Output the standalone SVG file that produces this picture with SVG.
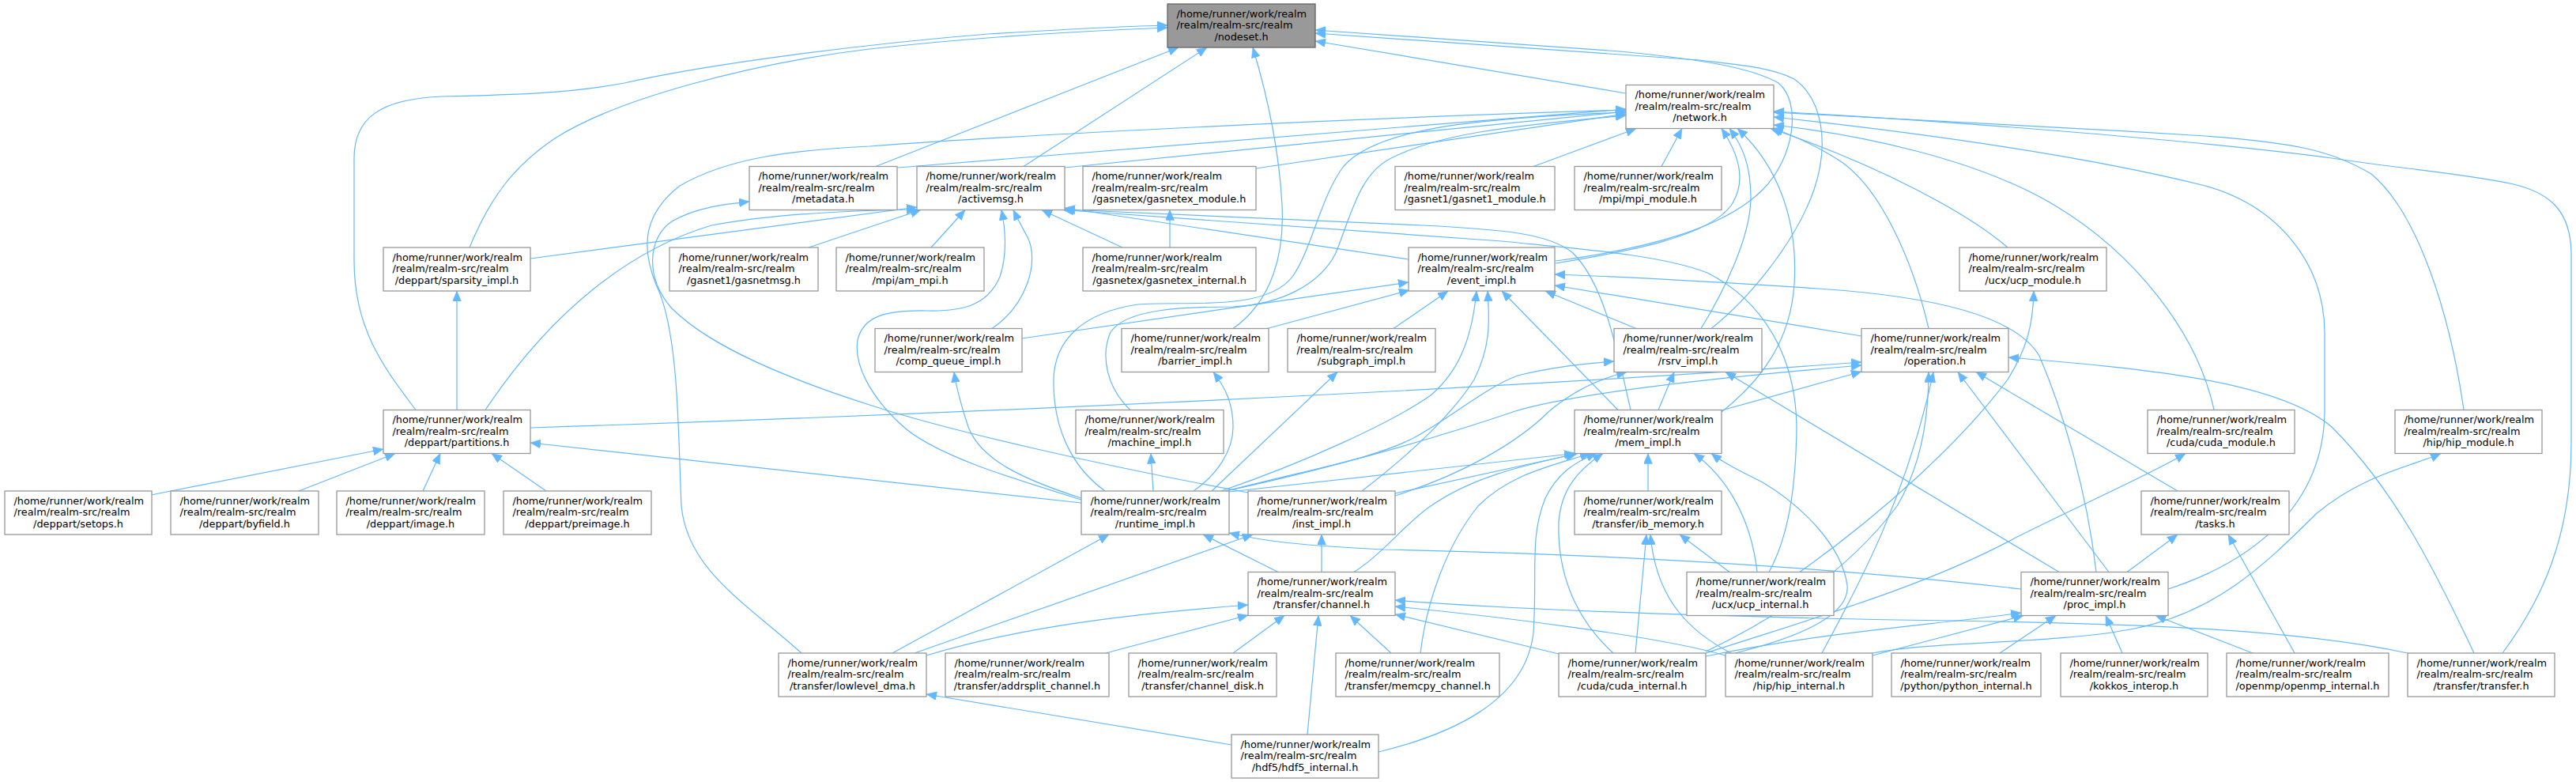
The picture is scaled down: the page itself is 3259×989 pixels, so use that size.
<svg xmlns="http://www.w3.org/2000/svg" width="3259" height="989" viewBox="0 0 3259 989">
<style>
.n rect{fill:#fff;stroke:#999;stroke-width:1.3}
.n.hl rect{fill:#999;stroke:#666}
.n text{font-family:"DejaVu Sans","Liberation Sans",sans-serif;font-size:12.85px;fill:#000}
.n text.c{text-anchor:middle}
.e path{fill:none;stroke:#63b8ff;stroke-width:1.2;marker-end:url(#ah)}
</style>
<defs>
<marker id="ah" markerWidth="13" markerHeight="11" refX="13" refY="5.5" orient="auto" markerUnits="userSpaceOnUse"><path d="M0,0 L13,5.5 L0,11 z" fill="#63b8ff" stroke="#63b8ff" stroke-width="0.5"/></marker>
</defs>
<rect x="0" y="0" width="3259" height="989" fill="#fff"/>
<g id="edges" class="e">
<path d="M2057,118 L1664,52"/>
<path d="M1108,210.5 L1491,60"/>
<path d="M1136,212 L2057,138"/>
<path d="M1295,210.5 L1527,60"/>
<path d="M1347,212 L2057,141"/>
<path d="M1589,213 L2057,144"/>
<path d="M1940,210.5 L2070,162.5"/>
<path d="M2102,210.5 L2128,162.5"/>
<path d="M594,313 C620,250 650,210 702,175 C780,125 950,80 1100,62 C1250,45 1400,38 1477,35"/>
<path d="M671,327 L1160,262"/>
<path d="M526,518.5 C490,470 448,420 448,330 L448,200 C448,150 480,125 560,122 C650,120 720,118 790,105 C900,80 1100,55 1250,43 C1350,37 1420,33 1477,32"/>
<path d="M614,518.5 C700,390 800,315 900,285 C980,270 1080,266 1160,265"/>
<path d="M578,518.5 L578,368"/>
<path d="M671,541 C1200,524 1900,492 2355,458"/>
<path d="M1023,313 L1165,265.5"/>
<path d="M1178,313 L1221,265.5"/>
<path d="M1420,313 L1318,265.5"/>
<path d="M1480,313 L1480,265.5"/>
<path d="M1968,330 C2080,315 2180,290 2230,240 C2270,200 2280,130 2250,105 C2215,85 2150,75 2050,65 L1664,38"/>
<path d="M1968,333 C2060,318 2160,300 2190,260 C2210,230 2200,195 2178,162.5"/>
<path d="M1782,328 L1347,263"/>
<path d="M2540,313 C2490,270 2380,210 2240,162.5"/>
<path d="M1255,415.5 C1300,385 1315,330 1300,300 C1292,285 1287,276 1282,265.5"/>
<path d="M1293,428 L1782,357"/>
<path d="M1560,415.5 C1610,380 1625,320 1622,260 C1618,180 1600,110 1585,60"/>
<path d="M1603,415.5 L1783,367"/>
<path d="M1763,415.5 L1832,368"/>
<path d="M2165,415.5 C2210,380 2270,310 2295,240 C2315,180 2305,125 2270,100 C2240,85 2200,82 2150,76 L1664,42"/>
<path d="M2152,415.5 C2180,370 2215,300 2215,250 C2215,210 2205,185 2188,162.5"/>
<path d="M2070,415.5 L1955,368"/>
<path d="M2440,415.5 C2420,330 2380,240 2330,205 C2300,185 2270,172 2243,162"/>
<path d="M2355,425 L1967,361"/>
<path d="M2047,518.5 L1900,368"/>
<path d="M2063,518.5 C2045,440 2030,360 1990,320 C1960,295 1900,290 1800,285 L1347,265"/>
<path d="M2098,518.5 L2118,470.5"/>
<path d="M2178,519 L2355,470"/>
<path d="M2178,521 C2230,480 2265,430 2270,360 C2275,280 2250,210 2198,162.5"/>
<path d="M2238,723.5 C2262,680 2272,620 2273,540 C2272,450 2230,380 2160,345 C2100,322 2000,315 1900,305 L1345,265.5"/>
<path d="M1398,621 C1355,590 1332,540 1333,480 C1334,430 1370,395 1440,385 C1500,380 1600,395 1635,350 C1660,315 1670,250 1700,210 C1740,165 1850,150 2057,142"/>
<path d="M1430,518.5 C1400,490 1392,450 1405,420 C1425,390 1500,388 1560,388 C1620,385 1670,360 1690,320 C1710,270 1720,220 1760,200 C1820,170 1900,160 2057,146"/>
<path d="M1368,632 C1280,605 1180,575 1140,537 C1100,500 1080,460 1085,430 C1092,400 1120,392 1173,393 C1220,394 1250,385 1265,350 C1275,320 1272,290 1267,265.5"/>
<path d="M1368,630 C1290,605 1240,580 1225,540 C1215,510 1210,490 1207,470.5"/>
<path d="M1368,636 L671,560"/>
<path d="M1459,621 L1456,573.5"/>
<path d="M1510,621 C1540,600 1560,570 1560,540 C1560,510 1550,490 1535,470.5"/>
<path d="M1533,621 L1692,470.5"/>
<path d="M1545,621 C1650,585 1760,535 1810,500 C1845,470 1862,430 1868,368"/>
<path d="M1550,621 C1650,600 1800,560 1917,520 C2000,495 2200,475 2355,462"/>
<path d="M1552,621 C1650,595 1740,580 1790,553 C1840,525 1880,490 1920,475 C1960,465 2000,460 2042,457"/>
<path d="M1555,622 L1992,573.5"/>
<path d="M1579,623 C1400,590 1200,545 1100,512 C1000,480 900,440 850,390 C815,350 820,300 850,280 C880,262 920,258 948,255"/>
<path d="M1723,621 C1790,570 1840,520 1865,480 C1885,440 1885,410 1882,368"/>
<path d="M1765,624 L1994,574"/>
<path d="M1765,627 C1850,600 1920,560 1960,520 C1990,495 2020,480 2058,470.5"/>
<path d="M1014,826 C940,760 870,720 862,640 C858,560 860,420 830,360 C810,310 815,270 860,235 C920,200 1000,190 1100,185 C1300,170 1700,150 2057,139"/>
<path d="M1129,826 L1403,676"/>
<path d="M1157,826 L1585,676"/>
<path d="M1172,829 C1300,790 1450,775 1579,765"/>
<path d="M1399,826 L1579,778"/>
<path d="M1560,826 L1625,778.5"/>
<path d="M1760,826 L1708,778.5"/>
<path d="M1797,826 C1805,760 1830,690 1870,640 C1910,600 1960,590 2012,573.5"/>
<path d="M1654,929 L1668,778.5"/>
<path d="M1558,942 L1172,878"/>
<path d="M1744,951 C1830,930 1930,890 1940,800 C1945,720 1935,680 1955,630 C1970,600 1990,585 2020,573.5"/>
<path d="M1617,723.5 L1522,676"/>
<path d="M1672,723.5 L1672,676"/>
<path d="M1713,723.5 C1750,700 1780,660 1810,640 C1860,605 1920,590 1996,573.5"/>
<path d="M1972,827 L1765,777"/>
<path d="M2041,826 C1990,780 1970,720 1972,660 C1975,620 1995,595 2028,573.5"/>
<path d="M2069,826 L2083,676"/>
<path d="M2158,830 C2300,800 2450,790 2557,775"/>
<path d="M2158,826 C2300,780 2440,740 2550,680 C2650,630 2720,600 2765,573.5"/>
<path d="M2158,824 C2250,780 2340,720 2400,640 C2430,590 2440,530 2440,470.5"/>
<path d="M2183,829 C2100,805 1900,780 1765,767"/>
<path d="M2190,826 C2140,800 2095,760 2088,676"/>
<path d="M2195,826 C2300,800 2340,770 2337,740 C2330,690 2280,640 2230,610 C2200,595 2180,585 2165,573.5"/>
<path d="M2305,826 C2340,760 2410,640 2446,470.5"/>
<path d="M2369,829 L2560,778.5"/>
<path d="M2369,826 C2450,810 2600,815 2700,795 C2800,775 2860,720 2930,650 C2990,600 3050,590 3088,573.5"/>
<path d="M2530,826 L2601,778.5"/>
<path d="M2685,826 L2664,778.5"/>
<path d="M2850,826 L2727,778.5"/>
<path d="M2903,826 L2819,676"/>
<path d="M3166,826 C3215,760 3253,680 3253,560 L3253,320 C3252,270 3230,245 3180,233 C3120,220 3050,215 2950,200 C2800,180 2500,155 2244,141"/>
<path d="M3046,826 C2900,795 2700,788 2400,784 C2100,778 1900,770 1765,759"/>
<path d="M3130,826 C3080,720 3030,620 2950,540 C2880,480 2700,465 2541,452"/>
<path d="M2277,723.5 C2380,650 2480,560 2540,480 C2565,440 2572,410 2573,368"/>
<path d="M2223,723.5 C2215,650 2180,600 2143,573.5"/>
<path d="M2188,723.5 L2125,676"/>
<path d="M2557,745 C2300,715 2000,700 1750,695 C1650,690 1600,685 1555,674"/>
<path d="M2605,723.5 L2183,470.5"/>
<path d="M2668,723.5 L2477,470.5"/>
<path d="M2652,723.5 C2640,620 2610,520 2580,450 C2550,400 2450,375 2300,365 C2150,355 2050,350 1967,347"/>
<path d="M2691,723.5 L2755,676"/>
<path d="M2743,745 C2850,710 2940,640 2941,520 L2941,420 C2940,330 2880,260 2790,235 C2650,200 2450,170 2244,148"/>
<path d="M2755,621 L2500,470.5"/>
<path d="M2801,518.5 C2780,420 2700,320 2600,260 C2500,200 2350,170 2244,158"/>
<path d="M3117,518.5 C3100,400 3060,270 3000,220 C2950,190 2900,180 2790,172 C2600,160 2400,150 2244,142"/>
<path d="M2085,621 L2085,573.5"/>
<path d="M191,626 L485,568"/>
<path d="M378,621 L500,573.5"/>
<path d="M535,621 L557,573.5"/>
<path d="M691,621 L622,573.5"/>
</g>
<g id="n_nodeset" class="n hl"><rect x="1477" y="5" width="187" height="55"/><text x="1488.5" y="21.7">/home/runner/work/realm</text><text x="1488.5" y="36.2">/realm/realm-src/realm</text><text class="c" x="1570.5" y="50.7">/nodeset.h</text></g>
<g id="n_network" class="n"><rect x="2057" y="107.5" width="187" height="55"/><text x="2068.5" y="124.2">/home/runner/work/realm</text><text x="2068.5" y="138.7">/realm/realm-src/realm</text><text class="c" x="2150.5" y="153.2">/network.h</text></g>
<g id="n_metadata" class="n"><rect x="948" y="210.5" width="187" height="55"/><text x="959.5" y="227.2">/home/runner/work/realm</text><text x="959.5" y="241.7">/realm/realm-src/realm</text><text class="c" x="1041.5" y="256.2">/metadata.h</text></g>
<g id="n_activemsg" class="n"><rect x="1160" y="210.5" width="187" height="55"/><text x="1171.5" y="227.2">/home/runner/work/realm</text><text x="1171.5" y="241.7">/realm/realm-src/realm</text><text class="c" x="1253.5" y="256.2">/activemsg.h</text></g>
<g id="n_gasnetex_module" class="n"><rect x="1370" y="210.5" width="219" height="55"/><text x="1381.5" y="227.2">/home/runner/work/realm</text><text x="1381.5" y="241.7">/realm/realm-src/realm</text><text class="c" x="1479.5" y="256.2">/gasnetex/gasnetex_module.h</text></g>
<g id="n_gasnet1_module" class="n"><rect x="1765" y="210.5" width="202" height="55"/><text x="1776.5" y="227.2">/home/runner/work/realm</text><text x="1776.5" y="241.7">/realm/realm-src/realm</text><text class="c" x="1866" y="256.2">/gasnet1/gasnet1_module.h</text></g>
<g id="n_mpi_module" class="n"><rect x="1992" y="210.5" width="186" height="55"/><text x="2003.5" y="227.2">/home/runner/work/realm</text><text x="2003.5" y="241.7">/realm/realm-src/realm</text><text class="c" x="2085" y="256.2">/mpi/mpi_module.h</text></g>
<g id="n_sparsity_impl" class="n"><rect x="485" y="313" width="186" height="55"/><text x="496.5" y="329.7">/home/runner/work/realm</text><text x="496.5" y="344.2">/realm/realm-src/realm</text><text class="c" x="578" y="358.7">/deppart/sparsity_impl.h</text></g>
<g id="n_gasnetmsg" class="n"><rect x="847" y="313" width="188" height="55"/><text x="858.5" y="329.7">/home/runner/work/realm</text><text x="858.5" y="344.2">/realm/realm-src/realm</text><text class="c" x="941" y="358.7">/gasnet1/gasnetmsg.h</text></g>
<g id="n_am_mpi" class="n"><rect x="1058" y="313" width="187" height="55"/><text x="1069.5" y="329.7">/home/runner/work/realm</text><text x="1069.5" y="344.2">/realm/realm-src/realm</text><text class="c" x="1151.5" y="358.7">/mpi/am_mpi.h</text></g>
<g id="n_gasnetex_internal" class="n"><rect x="1370" y="313" width="219" height="55"/><text x="1381.5" y="329.7">/home/runner/work/realm</text><text x="1381.5" y="344.2">/realm/realm-src/realm</text><text class="c" x="1479.5" y="358.7">/gasnetex/gasnetex_internal.h</text></g>
<g id="n_event_impl" class="n"><rect x="1782" y="313" width="185" height="55"/><text x="1793.5" y="329.7">/home/runner/work/realm</text><text x="1793.5" y="344.2">/realm/realm-src/realm</text><text class="c" x="1874.5" y="358.7">/event_impl.h</text></g>
<g id="n_ucp_module" class="n"><rect x="2479" y="313" width="186" height="55"/><text x="2490.5" y="329.7">/home/runner/work/realm</text><text x="2490.5" y="344.2">/realm/realm-src/realm</text><text class="c" x="2572" y="358.7">/ucx/ucp_module.h</text></g>
<g id="n_comp_queue_impl" class="n"><rect x="1107" y="415.5" width="186" height="55"/><text x="1118.5" y="432.2">/home/runner/work/realm</text><text x="1118.5" y="446.7">/realm/realm-src/realm</text><text class="c" x="1200" y="461.2">/comp_queue_impl.h</text></g>
<g id="n_barrier_impl" class="n"><rect x="1419" y="415.5" width="186" height="55"/><text x="1430.5" y="432.2">/home/runner/work/realm</text><text x="1430.5" y="446.7">/realm/realm-src/realm</text><text class="c" x="1512" y="461.2">/barrier_impl.h</text></g>
<g id="n_subgraph_impl" class="n"><rect x="1629" y="415.5" width="187" height="55"/><text x="1640.5" y="432.2">/home/runner/work/realm</text><text x="1640.5" y="446.7">/realm/realm-src/realm</text><text class="c" x="1722.5" y="461.2">/subgraph_impl.h</text></g>
<g id="n_rsrv_impl" class="n"><rect x="2042" y="415.5" width="187" height="55"/><text x="2053.5" y="432.2">/home/runner/work/realm</text><text x="2053.5" y="446.7">/realm/realm-src/realm</text><text class="c" x="2135.5" y="461.2">/rsrv_impl.h</text></g>
<g id="n_operation" class="n"><rect x="2355" y="415.5" width="186" height="55"/><text x="2366.5" y="432.2">/home/runner/work/realm</text><text x="2366.5" y="446.7">/realm/realm-src/realm</text><text class="c" x="2448" y="461.2">/operation.h</text></g>
<g id="n_partitions" class="n"><rect x="485" y="518.5" width="186" height="55"/><text x="496.5" y="535.2">/home/runner/work/realm</text><text x="496.5" y="549.7">/realm/realm-src/realm</text><text class="c" x="578" y="564.2">/deppart/partitions.h</text></g>
<g id="n_machine_impl" class="n"><rect x="1361" y="518.5" width="187" height="55"/><text x="1372.5" y="535.2">/home/runner/work/realm</text><text x="1372.5" y="549.7">/realm/realm-src/realm</text><text class="c" x="1454.5" y="564.2">/machine_impl.h</text></g>
<g id="n_mem_impl" class="n"><rect x="1992" y="518.5" width="186" height="55"/><text x="2003.5" y="535.2">/home/runner/work/realm</text><text x="2003.5" y="549.7">/realm/realm-src/realm</text><text class="c" x="2085" y="564.2">/mem_impl.h</text></g>
<g id="n_cuda_module" class="n"><rect x="2717" y="518.5" width="186" height="55"/><text x="2728.5" y="535.2">/home/runner/work/realm</text><text x="2728.5" y="549.7">/realm/realm-src/realm</text><text class="c" x="2810" y="564.2">/cuda/cuda_module.h</text></g>
<g id="n_hip_module" class="n"><rect x="3030" y="518.5" width="186" height="55"/><text x="3041.5" y="535.2">/home/runner/work/realm</text><text x="3041.5" y="549.7">/realm/realm-src/realm</text><text class="c" x="3123" y="564.2">/hip/hip_module.h</text></g>
<g id="n_setops" class="n"><rect x="6" y="621" width="186" height="55"/><text x="17.5" y="637.7">/home/runner/work/realm</text><text x="17.5" y="652.2">/realm/realm-src/realm</text><text class="c" x="99" y="666.7">/deppart/setops.h</text></g>
<g id="n_byfield" class="n"><rect x="216" y="621" width="187" height="55"/><text x="227.5" y="637.7">/home/runner/work/realm</text><text x="227.5" y="652.2">/realm/realm-src/realm</text><text class="c" x="309.5" y="666.7">/deppart/byfield.h</text></g>
<g id="n_image" class="n"><rect x="426" y="621" width="187" height="55"/><text x="437.5" y="637.7">/home/runner/work/realm</text><text x="437.5" y="652.2">/realm/realm-src/realm</text><text class="c" x="519.5" y="666.7">/deppart/image.h</text></g>
<g id="n_preimage" class="n"><rect x="637" y="621" width="187" height="55"/><text x="648.5" y="637.7">/home/runner/work/realm</text><text x="648.5" y="652.2">/realm/realm-src/realm</text><text class="c" x="730.5" y="666.7">/deppart/preimage.h</text></g>
<g id="n_runtime_impl" class="n"><rect x="1368" y="621" width="187" height="55"/><text x="1379.5" y="637.7">/home/runner/work/realm</text><text x="1379.5" y="652.2">/realm/realm-src/realm</text><text class="c" x="1461.5" y="666.7">/runtime_impl.h</text></g>
<g id="n_inst_impl" class="n"><rect x="1579" y="621" width="186" height="55"/><text x="1590.5" y="637.7">/home/runner/work/realm</text><text x="1590.5" y="652.2">/realm/realm-src/realm</text><text class="c" x="1672" y="666.7">/inst_impl.h</text></g>
<g id="n_ib_memory" class="n"><rect x="1992" y="621" width="186" height="55"/><text x="2003.5" y="637.7">/home/runner/work/realm</text><text x="2003.5" y="652.2">/realm/realm-src/realm</text><text class="c" x="2085" y="666.7">/transfer/ib_memory.h</text></g>
<g id="n_tasks" class="n"><rect x="2709" y="621" width="187" height="55"/><text x="2720.5" y="637.7">/home/runner/work/realm</text><text x="2720.5" y="652.2">/realm/realm-src/realm</text><text class="c" x="2802.5" y="666.7">/tasks.h</text></g>
<g id="n_channel" class="n"><rect x="1579" y="723.5" width="186" height="55"/><text x="1590.5" y="740.2">/home/runner/work/realm</text><text x="1590.5" y="754.7">/realm/realm-src/realm</text><text class="c" x="1672" y="769.2">/transfer/channel.h</text></g>
<g id="n_ucp_internal" class="n"><rect x="2134" y="723.5" width="186" height="55"/><text x="2145.5" y="740.2">/home/runner/work/realm</text><text x="2145.5" y="754.7">/realm/realm-src/realm</text><text class="c" x="2227" y="769.2">/ucx/ucp_internal.h</text></g>
<g id="n_proc_impl" class="n"><rect x="2557" y="723.5" width="186" height="55"/><text x="2568.5" y="740.2">/home/runner/work/realm</text><text x="2568.5" y="754.7">/realm/realm-src/realm</text><text class="c" x="2650" y="769.2">/proc_impl.h</text></g>
<g id="n_lowlevel_dma" class="n"><rect x="985" y="826" width="187" height="55"/><text x="996.5" y="842.7">/home/runner/work/realm</text><text x="996.5" y="857.2">/realm/realm-src/realm</text><text class="c" x="1078.5" y="871.7">/transfer/lowlevel_dma.h</text></g>
<g id="n_addrsplit_channel" class="n"><rect x="1196" y="826" width="207" height="55"/><text x="1207.5" y="842.7">/home/runner/work/realm</text><text x="1207.5" y="857.2">/realm/realm-src/realm</text><text class="c" x="1299.5" y="871.7">/transfer/addrsplit_channel.h</text></g>
<g id="n_channel_disk" class="n"><rect x="1428" y="826" width="187" height="55"/><text x="1439.5" y="842.7">/home/runner/work/realm</text><text x="1439.5" y="857.2">/realm/realm-src/realm</text><text class="c" x="1521.5" y="871.7">/transfer/channel_disk.h</text></g>
<g id="n_memcpy_channel" class="n"><rect x="1690" y="826" width="207" height="55"/><text x="1701.5" y="842.7">/home/runner/work/realm</text><text x="1701.5" y="857.2">/realm/realm-src/realm</text><text class="c" x="1793.5" y="871.7">/transfer/memcpy_channel.h</text></g>
<g id="n_cuda_internal" class="n"><rect x="1972" y="826" width="186" height="55"/><text x="1983.5" y="842.7">/home/runner/work/realm</text><text x="1983.5" y="857.2">/realm/realm-src/realm</text><text class="c" x="2065" y="871.7">/cuda/cuda_internal.h</text></g>
<g id="n_hip_internal" class="n"><rect x="2183" y="826" width="186" height="55"/><text x="2194.5" y="842.7">/home/runner/work/realm</text><text x="2194.5" y="857.2">/realm/realm-src/realm</text><text class="c" x="2276" y="871.7">/hip/hip_internal.h</text></g>
<g id="n_python_internal" class="n"><rect x="2393" y="826" width="189" height="55"/><text x="2404.5" y="842.7">/home/runner/work/realm</text><text x="2404.5" y="857.2">/realm/realm-src/realm</text><text class="c" x="2487.5" y="871.7">/python/python_internal.h</text></g>
<g id="n_kokkos_interop" class="n"><rect x="2607" y="826" width="186" height="55"/><text x="2618.5" y="842.7">/home/runner/work/realm</text><text x="2618.5" y="857.2">/realm/realm-src/realm</text><text class="c" x="2700" y="871.7">/kokkos_interop.h</text></g>
<g id="n_openmp_internal" class="n"><rect x="2817" y="826" width="205" height="55"/><text x="2828.5" y="842.7">/home/runner/work/realm</text><text x="2828.5" y="857.2">/realm/realm-src/realm</text><text class="c" x="2919.5" y="871.7">/openmp/openmp_internal.h</text></g>
<g id="n_transfer" class="n"><rect x="3046" y="826" width="186" height="55"/><text x="3057.5" y="842.7">/home/runner/work/realm</text><text x="3057.5" y="857.2">/realm/realm-src/realm</text><text class="c" x="3139" y="871.7">/transfer/transfer.h</text></g>
<g id="n_hdf5_internal" class="n"><rect x="1558" y="929" width="186" height="55"/><text x="1569.5" y="945.7">/home/runner/work/realm</text><text x="1569.5" y="960.2">/realm/realm-src/realm</text><text class="c" x="1651" y="974.7">/hdf5/hdf5_internal.h</text></g>
</svg>
